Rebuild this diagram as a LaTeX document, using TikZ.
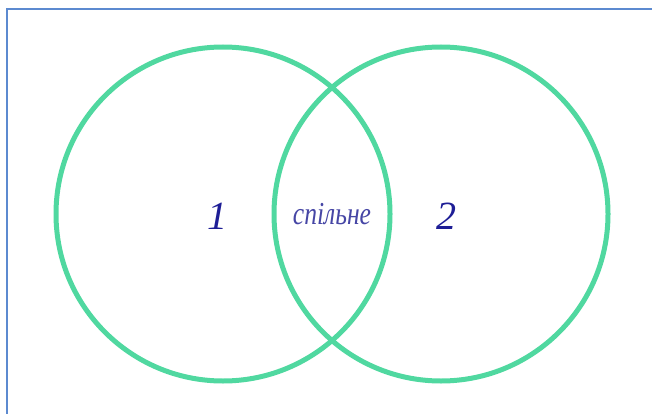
\documentclass[tikz,border=0pt]{standalone}
\usepackage{fontspec}
\setmainfont{Liberation Serif}
\definecolor{ringgreen}{RGB}{80,216,160}
\definecolor{framblue}{RGB}{92,138,208}
\definecolor{numblue}{RGB}{30,30,150}
\definecolor{wordblue}{RGB}{70,70,165}
\begin{document}
\begin{tikzpicture}[x=1pt, y=-1pt,
  frame/.style={draw=framblue, line width=2pt},
  ring/.style={circle, draw=ringgreen, line width=5pt, inner sep=0pt,
               minimum size=334pt},
  num/.style={text=numblue, font=\fontsize{40}{40}\selectfont\itshape},
  word/.style={text=wordblue, font=\fontsize{32}{32}\selectfont\itshape},
]
\useasboundingbox (0,0) rectangle (652,414);
\clip (0,0) rectangle (652,414);

% Frame (only top and left edges show)
\draw[frame] (6.5,9.5) rectangle (700,460);

% Two sets
\node[ring] (A) at (223,214) {};
\node[ring] (B) at (441,214) {};

% Labels
\node[num] (nA) at (217,216) {1};
\node[num] (nB) at (446,216) {2};
\node[word] (AB) at (332,214) {\scalebox{0.8}[1]{спільне}};

\end{tikzpicture}
\end{document}
